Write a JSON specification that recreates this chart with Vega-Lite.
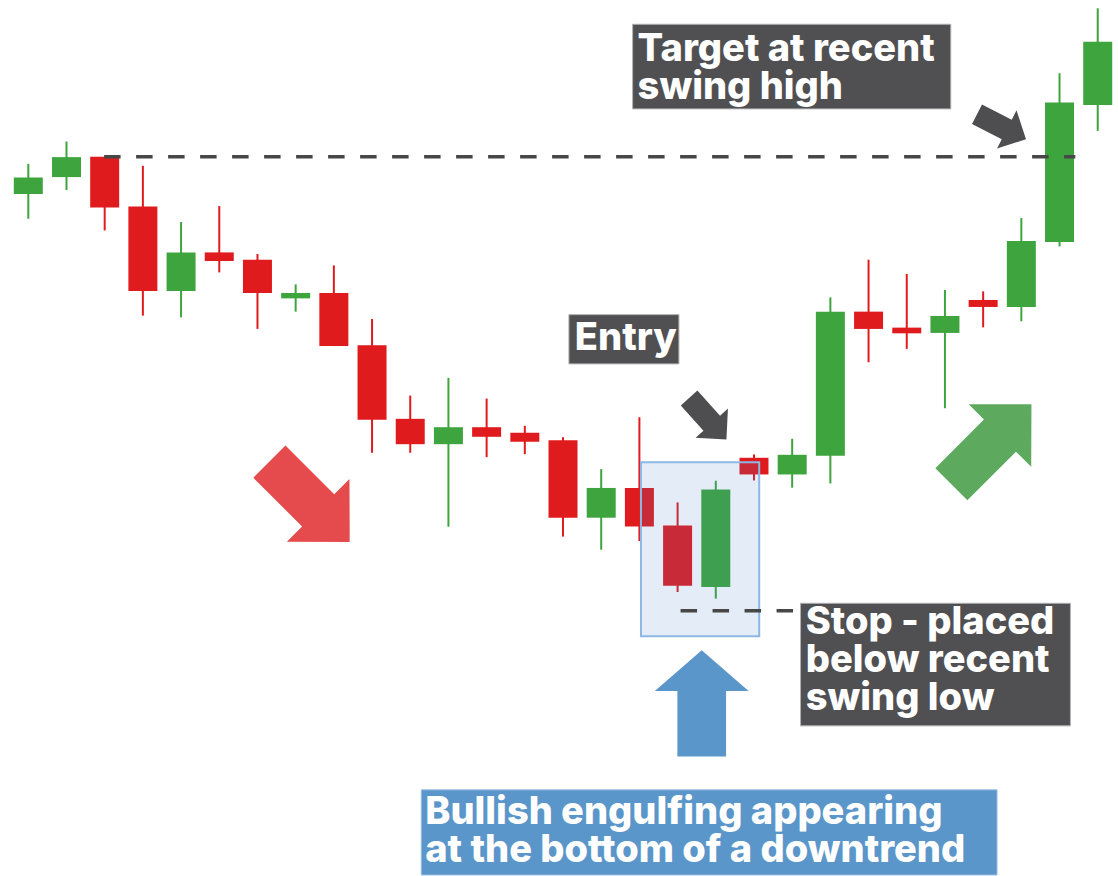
{
  "$schema": "https://vega.github.io/schema/vega-lite/v6.json",
  "width": 1118,
  "height": 876,
  "autosize": {"type": "fit", "contains": "padding"},
  "padding": 0,
  "background": "white",
  "config": {"view": {"stroke": null}},
  "datasets": {
    "candles": [
      {"bar": 1, "open": 68.17, "high": 71.2, "low": 65.7, "close": 69.83},
      {"bar": 2, "open": 69.87, "high": 73.43, "low": 68.57, "close": 71.87},
      {"bar": 3, "open": 71.9, "high": 71.9, "low": 64.53, "close": 66.83},
      {"bar": 4, "open": 66.93, "high": 71.0, "low": 56.0, "close": 58.47},
      {"bar": 5, "open": 58.47, "high": 65.37, "low": 55.83, "close": 62.33},
      {"bar": 6, "open": 62.33, "high": 66.97, "low": 60.33, "close": 61.47},
      {"bar": 7, "open": 61.6, "high": 62.17, "low": 54.67, "close": 58.27},
      {"bar": 8, "open": 57.73, "high": 59.13, "low": 56.4, "close": 58.27},
      {"bar": 9, "open": 58.27, "high": 61.03, "low": 52.95, "close": 52.95},
      {"bar": 10, "open": 53.03, "high": 55.67, "low": 42.27, "close": 45.57},
      {"bar": 11, "open": 45.67, "high": 48.0, "low": 42.27, "close": 43.13},
      {"bar": 12, "open": 43.13, "high": 49.77, "low": 34.87, "close": 44.83},
      {"bar": 13, "open": 44.83, "high": 47.7, "low": 41.83, "close": 43.87},
      {"bar": 14, "open": 44.27, "high": 44.97, "low": 42.13, "close": 43.37},
      {"bar": 15, "open": 43.53, "high": 43.83, "low": 33.88, "close": 35.77},
      {"bar": 16, "open": 35.77, "high": 40.63, "low": 32.57, "close": 38.75},
      {"bar": 17, "open": 38.75, "high": 45.83, "low": 33.43, "close": 34.9},
      {"bar": 18, "open": 35.0, "high": 37.3, "low": 28.33, "close": 28.97},
      {"bar": 19, "open": 28.83, "high": 39.47, "low": 27.67, "close": 38.6},
      {"bar": 20, "open": 41.77, "high": 42.1, "low": 39.5, "close": 40.1},
      {"bar": 21, "open": 40.1, "high": 43.67, "low": 38.78, "close": 42.07},
      {"bar": 22, "open": 41.97, "high": 57.83, "low": 39.2, "close": 56.4},
      {"bar": 23, "open": 56.4, "high": 61.6, "low": 51.33, "close": 54.67},
      {"bar": 24, "open": 54.8, "high": 60.17, "low": 52.67, "close": 54.23},
      {"bar": 25, "open": 54.27, "high": 58.57, "low": 46.73, "close": 55.97},
      {"bar": 26, "open": 57.57, "high": 58.43, "low": 54.83, "close": 56.87},
      {"bar": 27, "open": 56.87, "high": 65.77, "low": 55.43, "close": 63.47},
      {"bar": 28, "open": 63.37, "high": 80.27, "low": 62.93, "close": 77.33},
      {"bar": 29, "open": 77.1, "high": 86.77, "low": 74.5, "close": 83.43}
    ]
  },
  "layer": [
    {
      "data": {"name": "candles"},
      "mark": {"type": "rule", "strokeWidth": 2},
      "encoding": {
        "x": {"field": "bar", "type": "quantitative", "scale": {"domain": [0.39, 29.4], "nice": false, "zero": false}, "axis": null},
        "y": {"field": "low", "type": "quantitative", "scale": {"domain": [0, 87.6], "nice": false, "zero": false}, "axis": null},
        "y2": {"field": "high"},
        "color": {"condition": {"test": "datum.close >= datum.open", "value": "#3ea43d"}, "value": "#e01b1e"}
      }
    },
    {
      "data": {"name": "candles"},
      "mark": {"type": "bar", "size": 29},
      "encoding": {
        "x": {"field": "bar", "type": "quantitative", "scale": {"domain": [0.39, 29.4], "nice": false, "zero": false}, "axis": null},
        "y": {"field": "open", "type": "quantitative", "scale": {"domain": [0, 87.6], "nice": false, "zero": false}, "axis": null},
        "y2": {"field": "close"},
        "color": {"condition": {"test": "datum.close >= datum.open", "value": "#3ea43d"}, "value": "#e01b1e"}
      }
    },
    {
      "data": {"values": [{"x": 17.041, "x2": 20.137, "y": 41.33, "y2": 23.9}]},
      "mark": {"type": "rect", "fill": "#4a86c8", "fillOpacity": 0.15, "stroke": "#8db8e6", "strokeWidth": 2},
      "encoding": {
        "x": {"field": "x", "type": "quantitative", "scale": {"domain": [0.39, 29.4], "nice": false, "zero": false}, "axis": null},
        "x2": {"field": "x2"},
        "y": {"field": "y", "type": "quantitative", "scale": {"domain": [0, 87.6], "nice": false, "zero": false}, "axis": null},
        "y2": {"field": "y2"}
      }
    },
    {
      "data": {"values": [
        {"x": 16.823, "x2": 25.153, "y": 85.17, "y2": 76.7},
        {"x": 15.155, "x2": 18.035, "y": 56.1, "y2": 51.17},
        {"x": 21.219, "x2": 28.285, "y": 27.2, "y2": 14.93}
      ]},
      "mark": {"type": "rect", "fill": "#505052", "stroke": "#b0b0b0", "strokeWidth": 1},
      "encoding": {
        "x": {"field": "x", "type": "quantitative", "scale": {"domain": [0.39, 29.4], "nice": false, "zero": false}, "axis": null},
        "x2": {"field": "x2"},
        "y": {"field": "y", "type": "quantitative", "scale": {"domain": [0, 87.6], "nice": false, "zero": false}, "axis": null},
        "y2": {"field": "y2"}
      }
    },
    {
      "data": {"values": [{"x": 11.288, "x2": 26.364, "y": 8.53, "y2": 0}]},
      "mark": {"type": "rect", "fill": "#5b96ca", "stroke": "#9cc0e2", "strokeWidth": 1},
      "encoding": {
        "x": {"field": "x", "type": "quantitative", "scale": {"domain": [0.39, 29.4], "nice": false, "zero": false}, "axis": null},
        "x2": {"field": "x2"},
        "y": {"field": "y", "type": "quantitative", "scale": {"domain": [0, 87.6], "nice": false, "zero": false}, "axis": null},
        "y2": {"field": "y2"}
      }
    },
    {
      "data": {"values": [
        {"x": 2.985, "x2": 28.413, "y": 71.9},
        {"x": 18.078, "x2": 21.745, "y": 26.45}
      ]},
      "mark": {"type": "rule", "stroke": "#474747", "strokeWidth": 3.5, "strokeDash": [16.5, 15.5]},
      "encoding": {
        "x": {"field": "x", "type": "quantitative", "scale": {"domain": [0.39, 29.4], "nice": false, "zero": false}, "axis": null},
        "x2": {"field": "x2"},
        "y": {"field": "y", "type": "quantitative", "scale": {"domain": [0, 87.6], "nice": false, "zero": false}, "axis": null}
      }
    },
    {
      "data": {"values": [
        {"x": 16.953, "y": 81.5, "label": "Target at recent\nswing high"},
        {"x": 15.31, "y": 52.6, "label": "Entry"},
        {"x": 21.356, "y": 24.1, "label": "Stop - placed\nbelow recent\nswing low"},
        {"x": 11.392, "y": 5.1, "label": "Bullish engulfing appearing\nat the bottom of a downtrend"}
      ]},
      "mark": {"type": "text", "align": "left", "baseline": "alphabetic", "font": "Inter", "fontWeight": 800, "fontSize": 38, "lineHeight": 38, "lineBreak": "\n", "fill": "white"},
      "encoding": {
        "x": {"field": "x", "type": "quantitative", "scale": {"domain": [0.39, 29.4], "nice": false, "zero": false}, "axis": null},
        "y": {"field": "y", "type": "quantitative", "scale": {"domain": [0, 87.6], "nice": false, "zero": false}, "axis": null},
        "text": {"field": "label"}
      }
    },
    {
      "data": {"values": [{"x": 8.364, "y": 37.36}]},
      "mark": {"type": "point", "shape": "M -1 -0.4 L 0.214 -0.4 L 0.214 -0.78 L 1 0 L 0.214 0.78 L 0.214 0.4 L -1 0.4 Z", "size": 12900, "angle": 45, "filled": true, "fill": "#e54b4c", "strokeWidth": 0, "opacity": 1},
      "encoding": {
        "x": {"field": "x", "type": "quantitative", "scale": {"domain": [0.39, 29.4], "nice": false, "zero": false}, "axis": null},
        "y": {"field": "y", "type": "quantitative", "scale": {"domain": [0, 87.6], "nice": false, "zero": false}, "axis": null}
      }
    },
    {
      "data": {"values": [{"x": 26.216, "y": 43.13}]},
      "mark": {"type": "point", "shape": "M -1 -0.4 L 0.214 -0.4 L 0.214 -0.78 L 1 0 L 0.214 0.78 L 0.214 0.4 L -1 0.4 Z", "size": 12840, "angle": 315, "filled": true, "fill": "#5daa5e", "strokeWidth": 0, "opacity": 1},
      "encoding": {
        "x": {"field": "x", "type": "quantitative", "scale": {"domain": [0.39, 29.4], "nice": false, "zero": false}, "axis": null},
        "y": {"field": "y", "type": "quantitative", "scale": {"domain": [0, 87.6], "nice": false, "zero": false}, "axis": null}
      }
    },
    {
      "data": {"values": [{"x": 18.79, "y": 45.68}]},
      "mark": {"type": "point", "shape": "M -1 -0.4 L 0.214 -0.4 L 0.214 -0.78 L 1 0 L 0.214 0.78 L 0.214 0.4 L -1 0.4 Z", "size": 3114, "angle": 48, "filled": true, "fill": "#4e4e50", "strokeWidth": 0, "opacity": 1},
      "encoding": {
        "x": {"field": "x", "type": "quantitative", "scale": {"domain": [0.39, 29.4], "nice": false, "zero": false}, "axis": null},
        "y": {"field": "y", "type": "quantitative", "scale": {"domain": [0, 87.6], "nice": false, "zero": false}, "axis": null}
      }
    },
    {
      "data": {"values": [{"x": 26.481, "y": 74.91}]},
      "mark": {"type": "point", "shape": "M -1 -0.4 L 0.214 -0.4 L 0.214 -0.78 L 1 0 L 0.214 0.78 L 0.214 0.4 L -1 0.4 Z", "size": 3025, "angle": 27, "filled": true, "fill": "#4e4e50", "strokeWidth": 0, "opacity": 1},
      "encoding": {
        "x": {"field": "x", "type": "quantitative", "scale": {"domain": [0.39, 29.4], "nice": false, "zero": false}, "axis": null},
        "y": {"field": "y", "type": "quantitative", "scale": {"domain": [0, 87.6], "nice": false, "zero": false}, "axis": null}
      }
    },
    {
      "data": {"values": [{"x": 18.632, "y": 17.18}]},
      "mark": {"type": "point", "shape": "M -0.458 1 L -0.458 -0.234 L -0.882 -0.234 L 0 -1 L 0.882 -0.234 L 0.458 -0.234 L 0.458 1 Z", "size": 11300, "filled": true, "fill": "#5b96ca", "strokeWidth": 0, "opacity": 1},
      "encoding": {
        "x": {"field": "x", "type": "quantitative", "scale": {"domain": [0.39, 29.4], "nice": false, "zero": false}, "axis": null},
        "y": {"field": "y", "type": "quantitative", "scale": {"domain": [0, 87.6], "nice": false, "zero": false}, "axis": null}
      }
    }
  ]
}
